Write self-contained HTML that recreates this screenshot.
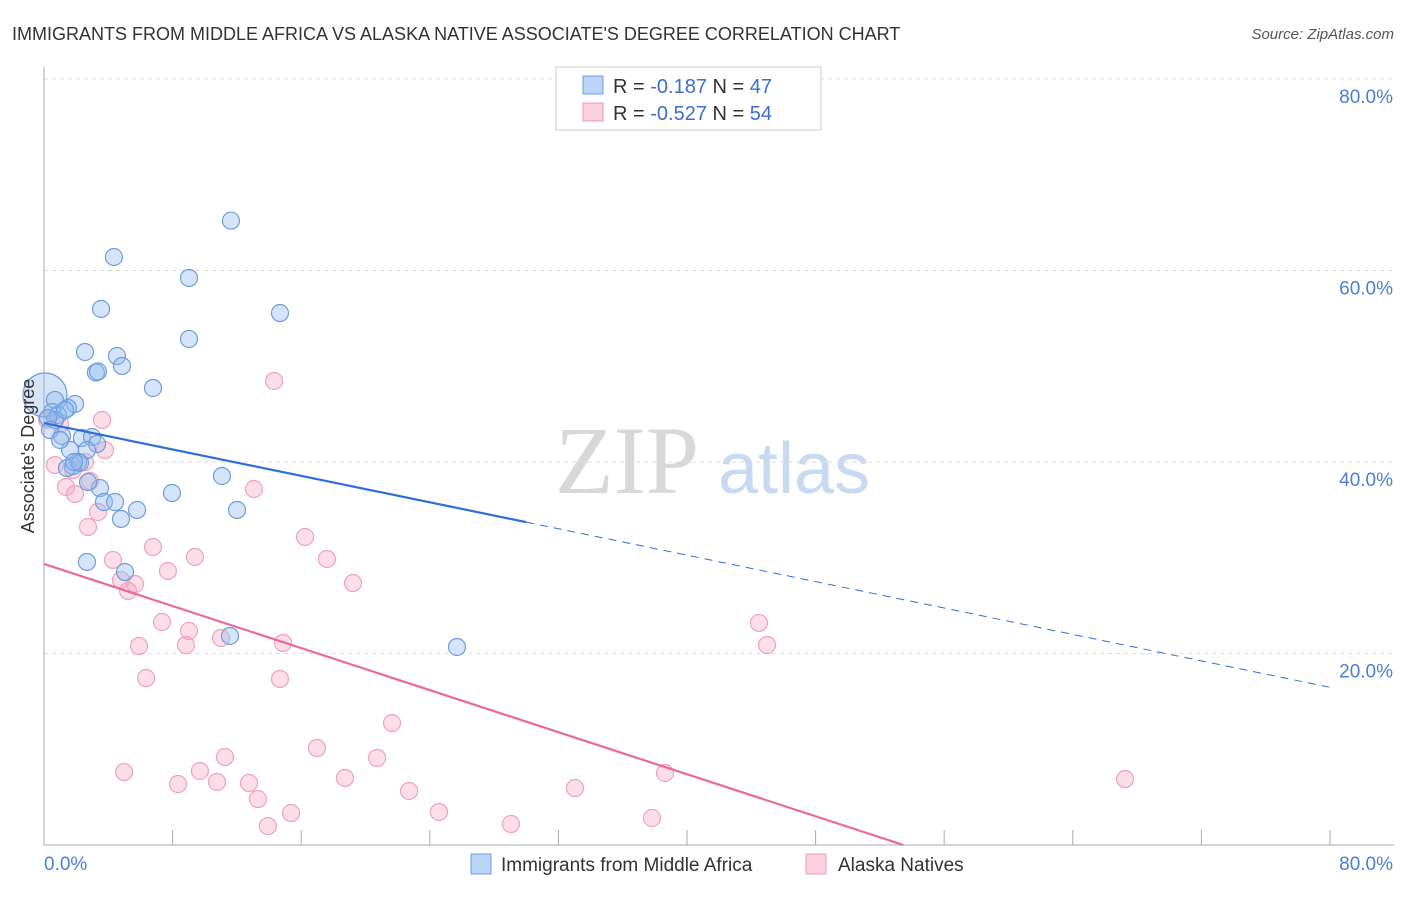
<!DOCTYPE html>
<html><head><meta charset="utf-8"><style>
body{margin:0;background:#fff;font-family:"Liberation Sans",sans-serif}
</style></head><body>
<svg width="1406" height="892" xmlns="http://www.w3.org/2000/svg" id="chart" font-family="Liberation Sans, sans-serif">
<text x="12" y="40" font-size="18" fill="#333">IMMIGRANTS FROM MIDDLE AFRICA VS ALASKA NATIVE ASSOCIATE'S DEGREE CORRELATION CHART</text>
<text x="1394" y="39" font-size="15" fill="#555" text-anchor="end" font-style="italic">Source: ZipAtlas.com</text>
<text x="555" y="493" font-size="96" fill="#d8d8d8" font-family="Liberation Serif, serif">ZIP</text>
<text x="718" y="493" font-size="72" fill="#c8daf2">atlas</text>
<g id="grid"></g>
<g id="axes"></g>
<g id="marks"></g>
<text transform="translate(34,456) rotate(-90)" font-size="18" fill="#333" text-anchor="middle">Associate's Degree</text>
<g>
<rect x="556" y="67" width="265" height="63" fill="#fff" stroke="#ccc"/>
<rect x="583" y="76" width="20" height="18" fill="#bcd4f6" stroke="#6d9de0"/>
<rect x="583" y="103" width="20" height="18" fill="#fbcfdc" stroke="#ec9ab4"/>
<text x="613" y="93" font-size="20" fill="#333">R = <tspan fill="#3a6fcf">-0.187</tspan>   N = <tspan fill="#3a6fcf">47</tspan></text>
<text x="613" y="120" font-size="20" fill="#333">R = <tspan fill="#3a6fcf">-0.527</tspan>   N = <tspan fill="#3a6fcf">54</tspan></text>
</g>
<g>
<rect x="471" y="854" width="20" height="20" fill="#bcd4f6" stroke="#6d9de0"/>
<text x="501" y="871" font-size="19" fill="#333">Immigrants from Middle Africa</text>
<rect x="806" y="854" width="20" height="20" fill="#fbcfdc" stroke="#ec9ab4"/>
<text x="838" y="871" font-size="19" fill="#333">Alaska Natives</text>
</g>
</svg>
<script>
const blueX=[11.63,4.35,9.02,3.55,14.68,9.02,2.55,4.54,4.85,3.23,3.36,6.78,0.06,0.68,1.93,1.49,0.5,0.87,1.12,2.36,2.99,3.30,1.62,2.67,2.12,1.80,1.43,11.07,3.48,7.96,3.73,4.42,5.79,12.01,4.79,2.67,5.04,11.57,25.69,0.68,0.25,2.24,0.37,1.31,2.74,1.0,1.87];
const blueY=[65.2,61.41,59.22,55.98,55.56,52.85,51.49,51.07,50.03,49.35,49.45,47.73,47.0,46.48,46.06,45.64,45.22,44.91,42.72,42.51,42.61,41.88,41.25,41.25,40.0,39.58,39.37,38.54,37.28,36.76,35.82,35.82,34.99,34.99,34.05,29.56,28.51,21.83,20.68,44.39,44.6,39.9,43.34,45.43,37.91,42.3,40.0];
const pinkX=[14.31,3.61,0.19,3.79,0.68,2.55,1.37,2.86,1.93,13.06,3.36,2.74,16.24,6.78,9.39,4.29,17.6,7.71,4.79,5.66,5.23,19.22,7.34,9.02,44.48,5.91,8.83,11.01,14.87,44.98,6.35,14.68,21.65,16.98,11.26,20.72,4.98,9.7,38.63,18.72,12.75,67.25,8.34,10.76,33.03,22.71,13.31,15.37,24.57,29.05,37.82,13.93,1.0,1.80];
const pinkY=[48.46,44.39,44.39,41.25,39.69,40.0,37.39,38.02,36.66,37.18,34.78,33.21,32.17,31.12,30.08,29.77,29.87,28.62,27.68,27.26,26.53,27.36,23.29,22.35,23.19,20.78,20.89,21.62,21.1,20.89,17.44,17.34,12.74,10.13,9.19,9.09,7.62,7.73,7.52,7.0,6.48,6.89,6.37,6.58,5.95,5.64,4.8,3.34,3.45,2.19,2.82,1.98,43.97,39.16];
const yTicks=[20,40,60,80];
const yTickLabels=["20.0%","40.0%","60.0%","80.0%"];
const xTicks=[0,8,16,24,32,40,48,56,64,72,80];
const blueTrend=[44.07,-0.345];
const pinkTrend=[29.35,-0.549];
const NS="http://www.w3.org/2000/svg";
const X=v=>44+v*16.075, Y=v=>845-v*9.575;
function mk(t,a,p){const e=document.createElementNS(NS,t);for(const k in a)e.setAttribute(k,a[k]);document.getElementById(p).appendChild(e);return e;}
yTicks.forEach((t,i)=>{
 const g=mk('line',{x1:44,x2:1394,y1:Y(t),y2:Y(t),stroke:'#ddd','stroke-dasharray':'4,4'},'grid');
 
 
 const l=mk('text',{x:1393,y:Y(t)+24,'font-size':19,fill:'#4a7fd6','text-anchor':'end'},'axes');
 l.textContent=yTickLabels[i];
 
 
});
const ya=mk('line',{x1:44,x2:44,y1:67,y2:845,stroke:'#aaa'},'axes');


const xa=mk('line',{x1:44,x2:1394,y1:845,y2:845,stroke:'#aaa'},'axes');


xTicks.forEach(t=>{const k=mk('line',{x1:X(t),x2:X(t),y1:830,y2:845,stroke:'#aaa'},'axes');
 
 });
[['0.0%',44,'start'],['80.0%',1393,'end']].forEach(a=>{const l=mk('text',{x:a[1],y:870,'font-size':19,fill:'#4a7fd6','text-anchor':a[2]},'axes');l.textContent=a[0];
 
 });
pinkX.forEach((x,i)=>{const c=mk('circle',{cx:X(x),cy:Y(pinkY[i]),r:8.5,fill:'rgba(244,160,186,0.35)',stroke:'#efa3bb','stroke-width':1.2},'marks');
 
 });
blueX.forEach((x,i)=>{const c=mk('circle',{cx:X(x),cy:Y(blueY[i]),r:i==12?22:8.5,fill:'rgba(150,188,238,0.4)',stroke:'#6d9de0','stroke-width':1.2},'marks');
 
 });
const bs=mk('line',{x1:X(0),y1:Y(blueTrend[0]),x2:X(30),y2:Y(blueTrend[0]+blueTrend[1]*30),stroke:'#2f6fd6','stroke-width':2.2},'marks');


const bd=mk('line',{x1:X(30),y1:Y(blueTrend[0]+blueTrend[1]*30),x2:X(80),y2:Y(blueTrend[0]+blueTrend[1]*80),stroke:'#2f6fd6','stroke-width':1,'stroke-dasharray':'8,6'},'marks');


const px0=-pinkTrend[0]/pinkTrend[1];
const pl=mk('line',{x1:X(0),y1:Y(pinkTrend[0]),x2:X(px0),y2:Y(0),stroke:'#e8699a','stroke-width':2.2},'marks');


</script>
</body></html>
